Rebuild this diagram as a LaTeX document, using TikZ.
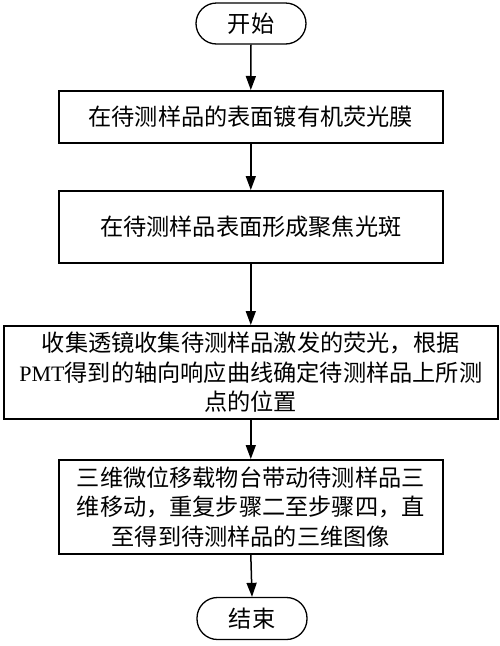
\documentclass[tikz,border=0pt]{standalone}
\usepackage{fontspec}
\setmainfont{Liberation Serif}
\newfontfamily\cjk{Noto Sans CJK SC}
\usetikzlibrary{arrows.meta}
\begin{document}
\begin{tikzpicture}[x=1pt,y=-1pt,
  txt/.style={font=\cjk\fontsize{23.2}{29.5}\selectfont, align=center},
  stepbox/.style={txt, draw, line width=1.6pt, inner sep=0pt, anchor=north west},
  term/.style={txt, draw, line width=1.3pt, inner sep=0pt, rounded corners=20.5pt},
  arr/.style={line width=1.5pt, -{Triangle[length=14pt,width=10pt]}}
]
\useasboundingbox (0,0) rectangle (500,646);
% terminals
\node[term, minimum width=110pt, minimum height=41pt] (start) at (251,23.5) {开始};
\node[term, minimum width=110pt, minimum height=42pt] (stop) at (252,618.5) {结束};
% boxes
\node[stepbox, minimum width=384pt, minimum height=52pt] (b1) at (58,90) {};
\node[txt] at (b1.center) {在待测样品的表面镀有机荧光膜};
\node[stepbox, minimum width=384pt, minimum height=72pt] (b2) at (58,190) {};
\node[txt] at (b2.center) {在待测样品表面形成聚焦光斑};
\node[stepbox, minimum width=494pt, minimum height=93pt] (b3) at (3,325) {};
\node[txt] at (b3.center) {收集透镜收集待测样品激发的荧光，根据\\{\rmfamily\fontsize{22}{29.5}\selectfont PMT}得到的轴向响应曲线确定待测样品上所测\\点的位置};
\node[stepbox, minimum width=384pt, minimum height=94pt] (b4) at (58,459) {};
\node[txt] at (b4.center) {三维微位移载物台带动待测样品三\\维移动，重复步骤二至步骤四，直\\至得到待测样品的三维图像};
% connectors
\draw[arr] (start.south) -- (b1.north);
\draw[arr] (b1.south) -- (b2.north);
\draw[arr] (b2.south) -- (b3.north);
\draw[arr] (b3.south) -- (b4.north);
\draw[arr] (b4.south) -- (stop.north);
\end{tikzpicture}
\end{document}
